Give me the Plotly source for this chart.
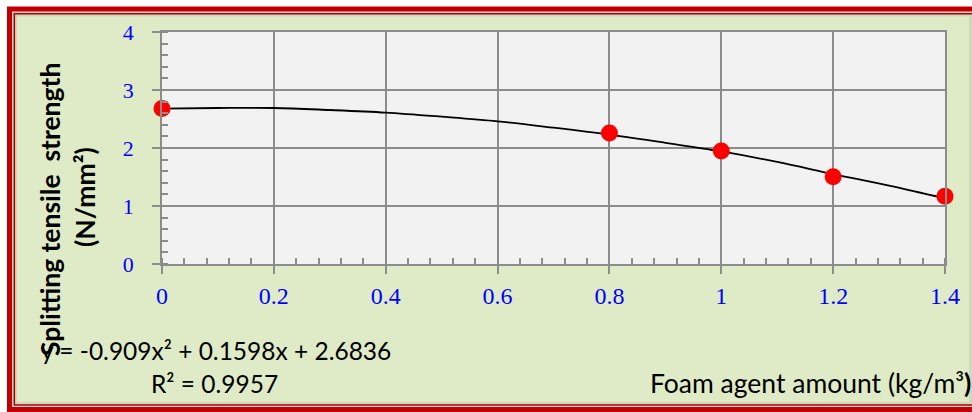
import plotly.graph_objects as go

# ---- data ----
foam_amount = [0, 0.8, 1.0, 1.2, 1.4]
split_strength = [2.68, 2.26, 1.95, 1.505, 1.17]

trend_x = [0, 0.1, 0.2, 0.3, 0.4, 0.5, 0.6, 0.7, 0.8, 0.9, 1.0, 1.1, 1.2, 1.3, 1.4]
trend_y = [2.68, 2.69, 2.69, 2.655, 2.61, 2.54, 2.46, 2.35, 2.23, 2.09, 1.94, 1.76, 1.55, 1.35, 1.13]

x_tick_vals = [0, 0.2, 0.4, 0.6, 0.8, 1.0, 1.2, 1.4]
x_tick_text = ["0", "0.2", "0.4", "0.6", "0.8", "1", "1.2", "1.4"]
y_tick_vals = [0, 1, 2, 3, 4]
y_tick_text = ["0", "1", "2", "3", "4"]

equation_text = "y = -0.909x² + 0.1598x + 2.6836"
r2_text = "R² = 0.9957"
x_title = "Foam agent amount (kg/m³<b>)</b>"
y_title_1 = "<b>Splitting tensile\u00a0 strength</b>"
y_title_2 = "<b>(N/mm²)</b>"

# ---- layout geometry ----
W, H = 972, 412
L, R, T, B = 162, 27, 32, 148
PW, PH = W - L - R, H - T - B


def px(xp):
    return (xp - L) / PW


def py(yp):
    return (H - B - yp) / PH


GRID = "#8c8c8c"
GREEN = "#dfebc6"
RED = "#c00000"
BLUE = "#0000ff"
SANS = "Lato, 'Open Sans', sans-serif"
SERIF = "'Liberation Serif', 'Times New Roman', serif"

fig = go.Figure()

fig.add_trace(go.Scatter(
    x=trend_x, y=trend_y, mode="lines",
    line=dict(color="black", width=1.8, shape="spline"),
    hoverinfo="skip", showlegend=False, cliponaxis=False,
))
fig.add_trace(go.Scatter(
    x=foam_amount, y=split_strength, mode="markers",
    marker=dict(color="#ff0000", size=17, line=dict(width=0)),
    showlegend=False, cliponaxis=False,
))

shapes = [
    dict(type="rect", xref="paper", yref="paper", layer="below",
         x0=px(9.5), x1=px(990), y0=py(9), y1=py(409.5),
         line=dict(color=RED, width=5), fillcolor="#f3d6d6"),
    dict(type="rect", xref="paper", yref="paper", layer="below",
         x0=px(14.3), x1=px(985), y0=py(13.8), y1=py(405),
         line=dict(color="#b00000", width=1.6), fillcolor="#cfd8bd"),
    dict(type="rect", xref="paper", yref="paper", layer="below",
         x0=px(17), x1=px(969), y0=py(16.5), y1=py(402),
         line=dict(width=0), fillcolor=GREEN),
    dict(type="rect", xref="paper", yref="paper", layer="below",
         x0=0, x1=1, y0=0, y1=1, line=dict(width=0), fillcolor="#f2f2f2"),
]

annotations = [
    dict(text=y_title_1, xref="paper", yref="paper", x=px(50), y=py(210),
         xanchor="center", yanchor="middle", textangle=-90, showarrow=False,
         font=dict(family=SANS, size=26.5, color="black")),
    dict(text=y_title_2, xref="paper", yref="paper", x=px(85), y=py(197),
         xanchor="center", yanchor="middle", textangle=-90, showarrow=False,
         font=dict(family=SANS, size=26.5, color="black")),
    dict(text=equation_text, xref="paper", yref="paper", x=px(216), y=py(350),
         xanchor="center", yanchor="middle", showarrow=False,
         font=dict(family=SANS, size=24.5, color="black")),
    dict(text=r2_text, xref="paper", yref="paper", x=px(214), y=py(383),
         xanchor="center", yanchor="middle", showarrow=False,
         font=dict(family=SANS, size=24.5, color="black")),
    dict(text=x_title, xref="paper", yref="paper", x=px(810), y=py(383),
         xanchor="center", yanchor="middle", showarrow=False,
         font=dict(family=SANS, size=26.5, color="black")),
]

fig.update_layout(
    width=W, height=H,
    margin=dict(l=L, r=R, t=T, b=B, pad=0),
    paper_bgcolor="white",
    plot_bgcolor="rgba(0,0,0,0)",
    shapes=shapes,
    annotations=annotations,
    showlegend=False,
)

fig.update_xaxes(
    range=[0, 1.4], tickmode="array", tickvals=x_tick_vals, ticktext=x_tick_text,
    showgrid=True, gridcolor=GRID, gridwidth=1.5,
    showline=True, linecolor=GRID, linewidth=1.5, mirror=True,
    ticks="outside", ticklen=8, tickwidth=1.5, tickcolor=GRID,
    tickfont=dict(family=SERIF, size=24, color=BLUE),
    ticklabelstandoff=1,
    minor=dict(dtick=0.04, tick0=0, ticks="inside", ticklen=6, tickwidth=1.5,
               tickcolor=GRID, showgrid=False),
    zeroline=False, fixedrange=True,
)
fig.update_yaxes(
    range=[0, 4], tickmode="array", tickvals=y_tick_vals, ticktext=y_tick_text,
    showgrid=True, gridcolor=GRID, gridwidth=1.5,
    showline=True, linecolor=GRID, linewidth=1.5, mirror=True,
    ticks="outside", ticklen=8, tickwidth=1.5, tickcolor=GRID,
    tickfont=dict(family=SERIF, size=22, color=BLUE),
    ticklabelstandoff=14,
    minor=dict(dtick=0.2, tick0=0, ticks="inside", ticklen=6, tickwidth=1.5,
               tickcolor=GRID, showgrid=False),
    zeroline=False, fixedrange=True,
)

fig.write_html(
    "out.html",
    config={"displayModeBar": False},
    post_script="document.body.style.margin='0';document.body.style.overflow='hidden';",
)
